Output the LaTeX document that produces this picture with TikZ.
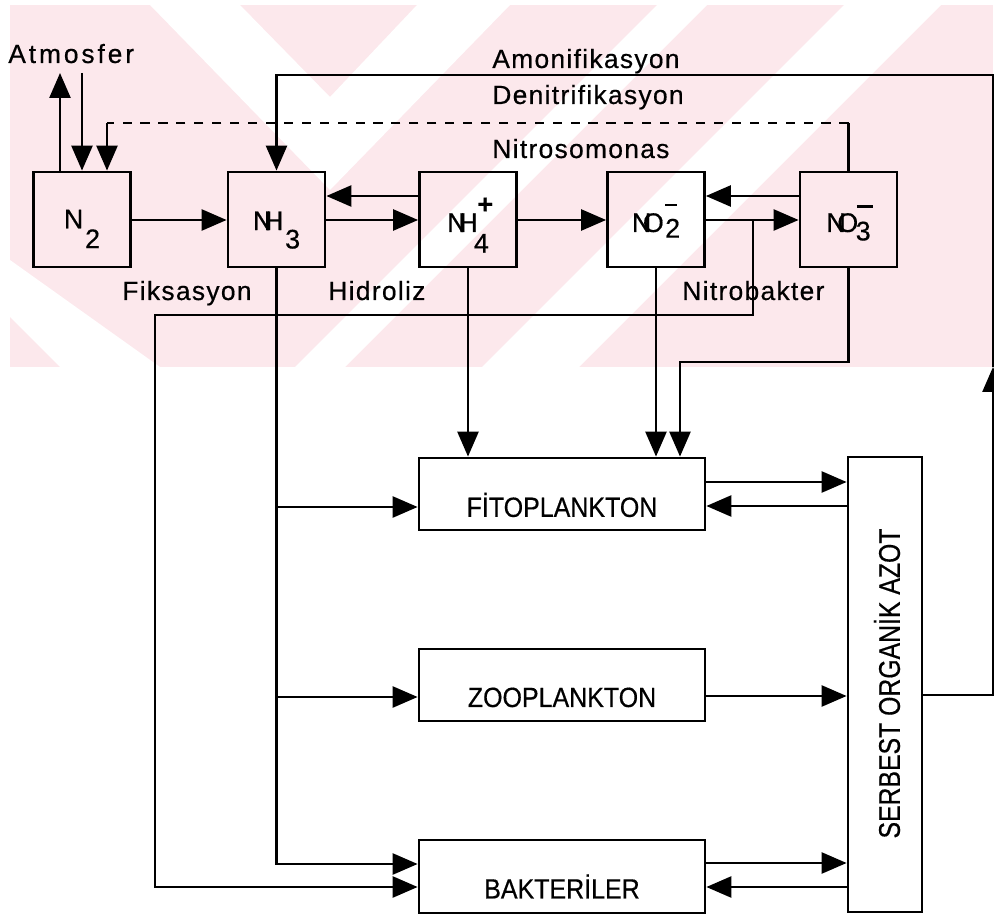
\documentclass[tikz,border=0pt]{standalone}
\usepackage{fontspec}
\setmainfont{Liberation Sans}[FakeBold=0.5]
\newfontfamily\lsp{Liberation Sans}[LetterSpace=5,FakeBold=0.5]
\newfontfamily\lspw{Liberation Sans}[LetterSpace=11,FakeBold=0.5]
\usetikzlibrary{arrows.meta}
\definecolor{wm}{RGB}{252,232,236}
\begin{document}
\begin{tikzpicture}[x=0.02cm,y=-0.02cm,
  every node/.style={font=\fontsize{15.3}{18}\selectfont},
  box/.style={draw, line width=1.6pt, inner sep=0pt, anchor=center},
  smallbox/.style={box, minimum width=1.94cm, minimum height=1.9cm},
  bigbox/.style={box, minimum width=5.72cm, minimum height=1.44cm, font=\fontsize{15.8}{18}\selectfont},
  lbl/.style={inner sep=0pt, anchor=base west, font=\fontsize{15}{17}\lsp},
  conn/.style={line width=1.45pt},
  flow/.style={conn, -{Triangle[length=0.5cm,width=0.42cm]}}]
\useasboundingbox (0,0) rectangle (994,915);
\fill[white] (0,0) rectangle (994,915);
% watermark
\begin{scope}
\clip (10,5) rectangle (993,367);
\fill[wm] (10,5) rectangle (993,367);
\fill[white] (150,5) -- (240,5) -- (330,97) -- (417,5) -- (510,5) -- (330,190) -- cycle;
\fill[white] (657,5) -- (707,5) -- (345,367) -- (295,367) -- cycle;
\fill[white] (844,5) -- (941,5) -- (579,367) -- (482,367) -- cycle;
\fill[white] (160,367) -- (60,367) -- (10,317) -- (10,260) -- cycle;
\end{scope}
% boxes
\node[smallbox] (N2) at (82,219.5) {\smash{\raisebox{-5pt}{N}\kern1pt\raisebox{-16.3pt}{2}}};
\node[smallbox] (NH3) at (276.5,219.5) {\smash{\raisebox{-6pt}{N\kern-4.7pt H}\kern1pt\raisebox{-16.5pt}{3}}};
\node[smallbox] (NH4) at (468,219.5) {\smash{\raisebox{-7.1pt}{N\kern-4.7pt H}\kern-2.2pt\rlap{\kern2pt\raisebox{3.5pt}{\bfseries +}}\raisebox{-18.8pt}{4}}};
\node[smallbox] (NO2) at (656,219.5) {\smash{\raisebox{-7.1pt}{N\kern-4.8pt O}\kern0.8pt\rlap{\raisebox{7.6pt}{\rule{6.5pt}{1.5pt}}}\raisebox{-10.3pt}{2}}};
\node[smallbox] (NO3) at (848.5,219.5) {\smash{\raisebox{-7.1pt}{N\kern-4.8pt O}\kern-1.4pt\rlap{\kern0.6pt\raisebox{6.3pt}{\rule{9pt}{1.8pt}}}\raisebox{-11.9pt}{3}}};
\node[bigbox] (FITO) at (562,494) {\smash{\raisebox{-13pt}{\scalebox{0.9}[1]{FİTOPLANKTON}}}};
\node[bigbox] (ZOO) at (562,685) {\smash{\raisebox{-12.5pt}{\scalebox{0.9}[1]{ZOOPLANKTON}}}};
\node[bigbox, minimum height=1.46cm] (BAK) at (562,876.5) {\smash{\raisebox{-12.5pt}{\scalebox{0.9}[1]{BAKTERİLER}}}};
\node[box, minimum width=1.48cm, minimum height=9.1cm] (SOA) at (885,684.5) {};
\node[rotate=90, inner sep=0pt] (soaT) at (887,683.5) {\fontsize{17}{20}\selectfont\scalebox{0.83}[1]{SERBEST ORGANİK AZOT}};
% labels
\node[lbl, font=\fontsize{15}{17}\lspw] (atm) at (8,63) {Atmosfer};
\node[lbl] (amo) at (492,68) {Amonifikasyon};
\node[lbl] (den) at (492,104) {Denitrifikasyon};
\node[lbl] (nso) at (492,158) {Nitrosomonas};
\node[lbl] (fik) at (122,300) {Fiksasyon};
\node[lbl] (hid) at (328,300) {Hidroliz};
\node[lbl] (nbk) at (682,300) {Nitrobakter};
% coordinates
\coordinate (atmU) at (60,73);
\coordinate (atmD) at (82,73);
\coordinate (dnR) at (848.5,123);
\coordinate (dnL) at (107,123);
\coordinate (amB) at (993,695);
\coordinate (amM) at (993,367);
\coordinate (amR) at (993,75);
\coordinate (amL) at (276.5,75);
\coordinate (nbT) at (753,220);
\coordinate (nbB) at (753,315);
\coordinate (nbL) at (155,315);
\coordinate (nbD) at (155,887);
\coordinate (n3a) at (848.5,362);
\coordinate (n3b) at (680,362);
% atmosphere
\draw[flow] (N2.north -| atmU) -- (atmU);
\draw[flow] (atmD) -- (N2.north -| atmD);
% denitrification
\draw[conn] (NO3.north) -- (dnR);
\draw[conn, dash pattern=on 5.2pt off 5pt] (dnR) -- (dnL);
\draw[flow] (dnL) -- (N2.north -| dnL);
% ammonification loop
\draw[flow] (SOA.east |- amB) -- (amB) -- (amM);
\draw[flow] (amM) -- (amR) -- (amL) -- (NH3.north);
% top row
\draw[flow] (N2.east |- 0,220) -- (NH3.west |- 0,220);
\draw[flow] (NH4.west |- 0,196) -- (NH3.east |- 0,196);
\draw[flow] (NH3.east |- 0,220) -- (NH4.west |- 0,220);
\draw[flow] (NH4.east |- 0,220) -- (NO2.west |- 0,220);
\draw[flow] (NO3.west |- 0,196) -- (NO2.east |- 0,196);
\draw[flow] (NO2.east |- 0,220) -- (NO3.west |- 0,220);
% nitrobakter branch
\draw[flow] (nbT) -- (nbB) -- (nbL) -- (nbD) -- (BAK.west |- nbD);
% NH3 trunk
\draw[flow] (NH3.south) -- (NH3.south |- 0,864) -- (BAK.west |- 0,864);
\draw[flow] (NH3.south |- 0,507) -- (FITO.west |- 0,507);
\draw[flow] (NH3.south |- 0,697) -- (ZOO.west |- 0,697);
% into phytoplankton
\draw[flow] (NH4.south) -- (NH4.south |- FITO.north);
\draw[flow] (NO2.south) -- (NO2.south |- FITO.north);
\draw[flow] (NO3.south) -- (n3a) -- (n3b) -- (n3b |- FITO.north);
% to and from SOA
\draw[flow] (FITO.east |- 0,482) -- (SOA.west |- 0,482);
\draw[flow] (SOA.west |- 0,506) -- (FITO.east |- 0,506);
\draw[flow] (ZOO.east |- 0,696) -- (SOA.west |- 0,696);
\draw[flow] (BAK.east |- 0,863) -- (SOA.west |- 0,863);
\draw[flow] (SOA.west |- 0,887) -- (BAK.east |- 0,887);
\end{tikzpicture}
\end{document}
